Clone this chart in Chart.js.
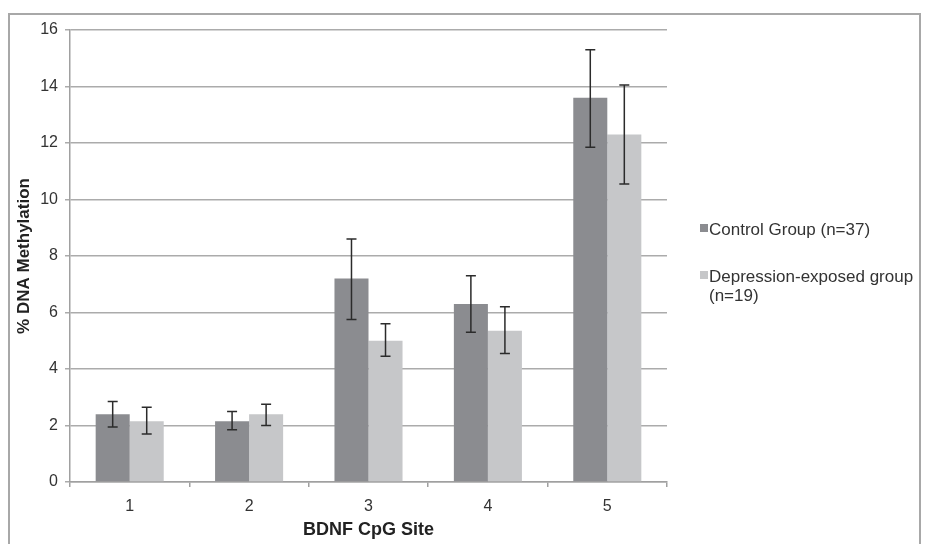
<!DOCTYPE html>
<html>
<head>
<meta charset="utf-8">
<script src="https://cdn.jsdelivr.net/npm/chart.js@4/dist/chart.umd.min.js"></script>
<style>
  html, body { margin: 0; padding: 0; background: #fff; overflow: hidden; }
  #wrap { position: relative; width: 925px; height: 544px; }
  #frame { position: absolute; left: 8px; top: 13px; width: 913px; height: 600px; border: 2px solid #a8a8a8; box-sizing: border-box; }
  canvas { position: absolute; left: 0; top: 0; }
</style>
</head>
<body>
<div id="wrap">
  <div id="frame"></div>
  <canvas id="bar-chart" width="925" height="544"></canvas>
</div>
<script>
// BDNF CpG methylation, bars with error bars

const sites = ['1', '2', '3', '4', '5'];

const control = [2.4, 2.15, 7.2, 6.3, 13.6];
const controlHigh = [2.85, 2.5, 8.6, 7.3, 15.3];
const controlLow = [1.95, 1.85, 5.75, 5.3, 11.85];

const depression = [2.15, 2.4, 5.0, 5.35, 12.3];
const depressionHigh = [2.65, 2.75, 5.6, 6.2, 14.05];
const depressionLow = [1.7, 2.0, 4.45, 4.55, 10.55];

const yTicks = [0, 2, 4, 6, 8, 10, 12, 14, 16];

const FONT = '"Liberation Sans", Arial, sans-serif';

// draws the whiskers on top of the bars
const errorBars = {
	id: 'errorBars',
	afterDatasetsDraw(chart) {
		const ctx = chart.ctx;
		const y = chart.scales.y;
		ctx.save();
		ctx.strokeStyle = '#2b2b2b';
		ctx.lineWidth = 1.5;
		chart.data.datasets.forEach((ds, i) => {
			const meta = chart.getDatasetMeta(i);
			meta.data.forEach((bar, j) => {
				const top = y.getPixelForValue(ds.high[j]);
				const bot = y.getPixelForValue(ds.low[j]);
				ctx.beginPath();
				ctx.moveTo(bar.x, top); ctx.lineTo(bar.x, bot);
				ctx.moveTo(bar.x - 5, top); ctx.lineTo(bar.x + 5, top);
				ctx.moveTo(bar.x - 5, bot); ctx.lineTo(bar.x + 5, bot);
				ctx.stroke();
			});
		});
		ctx.restore();
	}
};

// legend on the right, with wrapped text
const sideLegend = {
	id: 'sideLegend',
	afterDraw(chart) {
		const ctx = chart.ctx;
		const x = 700, maxW = 215;
		let yPos = [230, 277];
		ctx.save();
		ctx.font = '17px ' + FONT;
		ctx.textBaseline = 'middle';
		chart.data.datasets.forEach((ds, i) => {
			ctx.fillStyle = ds.backgroundColor;
			ctx.fillRect(x, yPos[i] - 6, 8, 8);
			ctx.fillStyle = '#333';
			const words = ds.label.split(' ');
			let line = '', ly = yPos[i];
			words.forEach(w => {
				const test = line ? line + ' ' + w : w;
				if (ctx.measureText(test).width > maxW && line) {
					ctx.fillText(line, x + 9, ly);
					line = w; ly += 19;
				} else {
					line = test;
				}
			});
			ctx.fillText(line, x + 9, ly);
		});
		ctx.restore();
	}
};

new Chart(document.getElementById('bar-chart'), {
	type: 'bar',
	data: {
		labels: sites,
		datasets: [{
			label: 'Control Group (n=37)',
			data: control,
			high: controlHigh,
			low: controlLow,
			backgroundColor: '#8b8c90'
		}, {
			label: 'Depression-exposed group (n=19)',
			data: depression,
			high: depressionHigh,
			low: depressionLow,
			backgroundColor: '#c6c7c9'
		}]
	},
	options: {
		responsive: false,
		animation: false,
		layout: { padding: { left: 0, top: 30, right: 258, bottom: 0 } },
		datasets: { bar: { categoryPercentage: 0.57, barPercentage: 1.0 } },
		plugins: {
			legend: { display: false },
			tooltip: { enabled: false }
		},
		scales: {
			x: {
				afterFit: s => { s.height = 62; },
				grid: { drawOnChartArea: false, color: '#a0a0a0', lineWidth: 1.5, tickLength: 5 },
				border: { color: '#a0a0a0', width: 1.5 },
				ticks: { color: '#333', font: { family: FONT, size: 16 }, padding: 10 },
				title: { display: true, text: 'BDNF CpG Site', color: '#222', font: { family: FONT, size: 18, weight: 'bold' }, padding: { top: 2, bottom: 3 } }
			},
			y: {
				min: 0,
				max: 16,
				afterFit: s => { s.width = 70; },
				afterBuildTicks: s => { s.ticks = yTicks.map(v => ({ value: v })); },
				grid: { color: '#ababab', lineWidth: 1.5, tickLength: 5 },
				border: { color: '#a0a0a0', width: 1.5 },
				ticks: { color: '#333', font: { family: FONT, size: 16 }, padding: 7 },
				title: { display: true, text: '% DNA Methylation', color: '#222', font: { family: FONT, size: 17, weight: 'bold' }, padding: { top: 14, bottom: 6 } }
			}
		}
	},
	plugins: [errorBars, sideLegend]
});
</script>
</body>
</html>
